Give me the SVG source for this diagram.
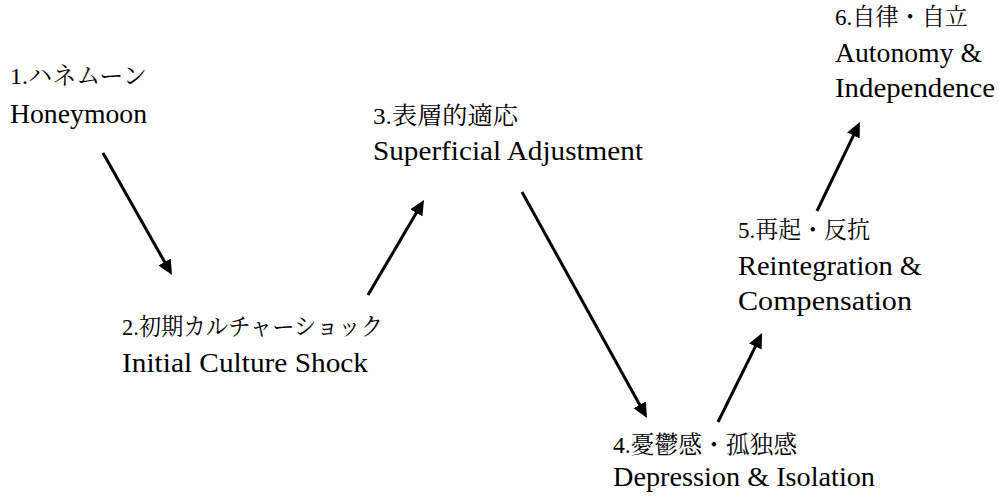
<svg xmlns="http://www.w3.org/2000/svg" width="999" height="496" viewBox="0 0 999 496">
  <style>
    .jp { font-size: 24px; fill: #000; }
    .en { font-size: 27px; fill: #000; }
    .arr { stroke: #000; stroke-width: 3; fill: none; marker-end: url(#head); }
  </style>
  <defs>
    <marker id="head" markerUnits="userSpaceOnUse" markerWidth="16" markerHeight="16" refX="3" refY="7" orient="auto" viewBox="0 0 16 14">
      <path d="M0,0 L15,7 L0,14 Z" fill="#000"/>
    </marker>
  </defs>
  <rect width="999" height="496" fill="#fff"/>

  <g id="connectors">
    <line class="arr" x1="103" y1="153" x2="166.1" y2="264.6"/>
    <line class="arr" x1="368" y1="295" x2="417.9" y2="210.3"/>
    <line class="arr" x1="522" y1="192" x2="641.2" y2="407.5"/>
    <line class="arr" x1="718" y1="422" x2="756.7" y2="343.8"/>
    <line class="arr" x1="817" y1="211" x2="854.7" y2="132.8"/>
  </g>

  <g font-family="'Liberation Serif', 'Times New Roman', 'Noto Serif CJK JP', 'Noto Sans CJK JP', serif">
  <g id="n1">
    <text class="jp" x="10" y="84" textLength="137" lengthAdjust="spacingAndGlyphs">1.ハネムーン</text>
    <text class="en" x="10" y="123" textLength="137" lengthAdjust="spacingAndGlyphs">Honeymoon</text>
  </g>
  <g id="n2">
    <text class="jp" x="122" y="335" textLength="261" lengthAdjust="spacingAndGlyphs">2.初期カルチャーショック</text>
    <text class="en" x="122" y="372" textLength="246" lengthAdjust="spacingAndGlyphs">Initial Culture Shock</text>
  </g>
  <g id="n3">
    <text class="jp" x="373" y="124" textLength="145" lengthAdjust="spacingAndGlyphs">3.表層的適応</text>
    <text class="en" x="373" y="160" textLength="270" lengthAdjust="spacingAndGlyphs">Superficial Adjustment</text>
  </g>
  <g id="n4">
    <text class="jp" x="613" y="453" textLength="184" lengthAdjust="spacingAndGlyphs">4.憂鬱感・孤独感</text>
    <text class="en" x="613" y="486" textLength="262" lengthAdjust="spacingAndGlyphs">Depression &amp; Isolation</text>
  </g>
  <g id="n5">
    <text class="jp" x="738" y="238" textLength="132" lengthAdjust="spacingAndGlyphs">5.再起・反抗</text>
    <text class="en" x="738" y="275" textLength="184" lengthAdjust="spacingAndGlyphs">Reintegration &amp;</text>
    <text class="en" x="738" y="310" textLength="174" lengthAdjust="spacingAndGlyphs">Compensation</text>
  </g>
  <g id="n6">
    <text class="jp" x="835" y="25" textLength="133" lengthAdjust="spacingAndGlyphs">6.自律・自立</text>
    <text class="en" x="835" y="62" textLength="147" lengthAdjust="spacingAndGlyphs">Autonomy &amp;</text>
    <text class="en" x="835" y="97" textLength="160" lengthAdjust="spacingAndGlyphs">Independence</text>
  </g>
  </g>
</svg>
